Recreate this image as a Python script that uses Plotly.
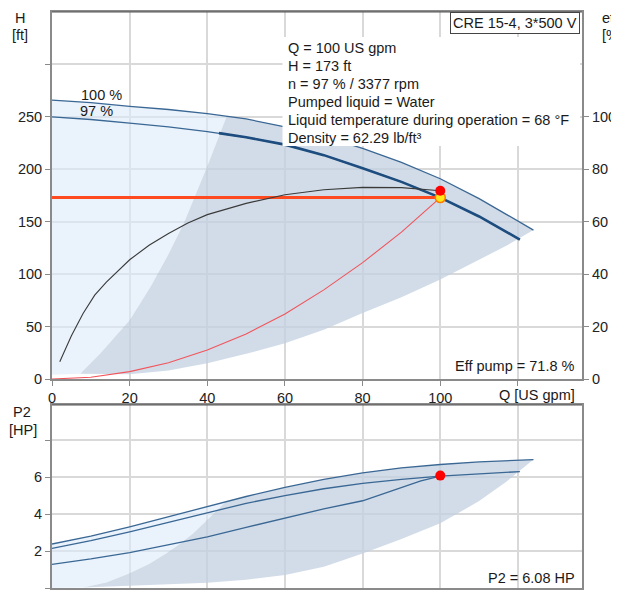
import plotly.graph_objects as go

# ---------------- data ----------------
# Q-H curve at 100 % speed
Q_100 = [0, 10, 20, 30, 40, 45, 50, 60, 70, 80, 90, 100, 110, 117, 124]
H_100 = [266, 263.5, 260, 257, 253, 250.5, 248, 240.5, 231.5, 220, 206.5, 191, 172, 157, 142]
# Q-H curve at 97 % speed (duty curve)
Q_97 = [0, 10, 20, 30, 40, 43, 50, 60, 70, 80, 90, 100, 110, 120.5]
H_97 = [250, 247.5, 244, 240.5, 236, 234.5, 230.5, 223.5, 213.5, 201, 188, 173, 155, 133]
# lower boundary of operating range (H)
Q_low = [7.3, 20, 30, 40, 50, 60, 70, 80, 90, 100, 110, 117, 124]
H_low = [5, 4.5, 8, 15, 24, 34, 47, 63, 78, 95, 114, 127, 142]
# left boundary of operating range (H)
Q_left = [7.3, 8.2, 12.5, 20, 25.4, 30, 34, 40, 45]
H_left = [5, 8.6, 24.6, 56, 88, 119, 149, 203, 250.5]
# system curve
Q_sys = [0, 10, 20, 30, 40, 50, 60, 70, 80, 90, 100]
H_sys = [0, 1.7, 7, 15.5, 27.7, 43, 62, 85, 111, 140, 173]
# pump efficiency
Q_eta = [2, 5, 8, 11, 14, 20, 25, 30, 35, 40, 50, 60, 70, 80, 90, 100]
eta = [6.6, 16.5, 25, 32, 37, 45.5, 51, 55.5, 59.5, 62.7, 67, 70.3, 72.2, 73.1, 73.0, 71.8]
# duty point
Q_duty = 100
H_duty = 173
eta_duty = 71.8
P2_duty = 6.08

# P2 curves
Q_p100 = [0, 10, 20, 30, 40, 50, 60, 70, 80, 90, 100, 110, 124]
P_p100 = [2.38, 2.8, 3.31, 3.85, 4.4, 4.95, 5.44, 5.88, 6.23, 6.5, 6.68, 6.82, 6.95]
Q_p97 = [0, 10, 20, 30, 40, 50, 60, 70, 80, 90, 100, 110, 120.5]
P_p97 = [2.14, 2.56, 3.04, 3.56, 4.09, 4.58, 5.0, 5.37, 5.66, 5.88, 6.05, 6.18, 6.3]
Q_pl = [0, 10, 20, 30, 40, 50, 60, 70, 80, 90, 95, 100]
P_pl = [1.28, 1.57, 1.91, 2.32, 2.77, 3.28, 3.8, 4.28, 4.72, 5.42, 5.8, 6.05]
# P2 operating range boundaries
Q_plow = [8, 20, 30, 40, 50, 60, 70, 80, 90, 100, 110, 117, 124]
P_plow = [0.03, 0.12, 0.2, 0.29, 0.45, 0.7, 1.15, 1.87, 2.65, 3.5, 4.7, 5.75, 6.95]
Q_pleft = [8, 14, 20, 25, 29.6, 33, 36.5, 40, 42.5, 44.7]
P_pleft = [0.03, 0.3, 0.8, 1.3, 1.9, 2.4, 2.97, 3.68, 4.2, 4.65]

x_ticks = [0, 20, 40, 60, 80, 100, 120]
x_ticktext = ["0", "20", "40", "60", "80", "100", ""]
h_ticks = [0, 50, 100, 150, 200, 250, 300]
h_ticktext = ["0", "50", "100", "150", "200", "250", ""]
eta_ticks = [0, 20, 40, 60, 80, 100]
p_ticks = [0, 2, 4, 6, 8]
p_ticktext = ["0", "2", "4", "6", ""]

info_lines = [
    "Q = 100 US gpm",
    "H = 173 ft",
    "n = 97 % / 3377 rpm",
    "Pumped liquid = Water",
    "Liquid temperature during operation = 68 °F",
    "Density = 62.29 lb/ft³",
]

# ---------------- styling ----------------
LIGHT = "rgba(220,235,250,0.6)"
DARK = "rgba(194,208,224,0.75)"
BLUE = "#3a6794"
BLUE_D = "#1d4c7f"
GRID = "#d9d9d9"
AX = "#8a8a8a"
FONT = "Liberation Sans, Arial, sans-serif"
FS = 14.5

OFF = 8  # page body margin
W, Hh = 619 - OFF, 590 - OFF
ML, MR, MT, MB = 52 - OFF, 37, 12 - OFF, 2
PW = W - ML - MR
PH = Hh - MT - MB


def px(x):
    return (x - OFF - ML) / PW


def py(y):
    return (Hh - MB - (y - OFF)) / PH


fig = go.Figure()

# --- top chart fills ---
q_l = [q for q in Q_100 if q <= Q_left[-1]]
h_l = [h for q, h in zip(Q_100, H_100) if q <= Q_left[-1]]
fig.add_trace(go.Scatter(
    x=q_l + Q_left[::-1] + [0], y=h_l + H_left[::-1] + [4],
    fill="toself", fillcolor=LIGHT, mode="lines", line=dict(width=0),
    hoverinfo="skip", xaxis="x", yaxis="y"))
q_op = [q for q in Q_100 if q > Q_left[-1]]
h_op = [h for q, h in zip(Q_100, H_100) if q > Q_left[-1]]
fig.add_trace(go.Scatter(
    x=Q_left + q_op + Q_low[::-1], y=H_left + h_op + H_low[::-1],
    fill="toself", fillcolor=DARK, mode="lines", line=dict(width=0),
    hoverinfo="skip", xaxis="x", yaxis="y"))

# --- top chart curves ---
fig.add_trace(go.Scatter(x=Q_100, y=H_100, mode="lines",
                         line=dict(color=BLUE, width=1.3), xaxis="x", yaxis="y"))
fig.add_trace(go.Scatter(x=Q_97, y=H_97, mode="lines",
                         line=dict(color=BLUE, width=1.3), xaxis="x", yaxis="y"))
q97_op = [q for q in Q_97 if q >= 43]
h97_op = [h for q, h in zip(Q_97, H_97) if q >= 43]
fig.add_trace(go.Scatter(x=q97_op, y=h97_op, mode="lines",
                         line=dict(color=BLUE_D, width=2.6), xaxis="x", yaxis="y"))
fig.add_trace(go.Scatter(x=Q_sys, y=H_sys, mode="lines",
                         line=dict(color="#f2545b", width=1.1), xaxis="x", yaxis="y"))
fig.add_trace(go.Scatter(x=Q_eta, y=eta, mode="lines",
                         line=dict(color="#3a3a3a", width=1.1), xaxis="x", yaxis="y3"))
fig.add_trace(go.Scatter(x=[0, Q_duty], y=[H_duty, H_duty], mode="lines",
                         line=dict(color="#ff4a1f", width=3), xaxis="x", yaxis="y"))
fig.add_trace(go.Scatter(x=[Q_duty], y=[eta_duty], mode="markers",
                         marker=dict(color="#ff0000", size=10, line=dict(width=0)),
                         xaxis="x", yaxis="y3"))
fig.add_trace(go.Scatter(x=[Q_duty], y=[H_duty], mode="markers",
                         marker=dict(color="#ffe81a", size=10, line=dict(color="#ff7a00", width=1.5)),
                         xaxis="x", yaxis="y"))

# --- bottom chart ---
qp_l = [q for q in Q_p100 if q < Q_pleft[-1]]
pp_l = [p for q, p in zip(Q_p100, P_p100) if q < Q_pleft[-1]]
fig.add_trace(go.Scatter(
    x=qp_l + Q_pleft[::-1] + [0], y=pp_l + P_pleft[::-1] + [0],
    fill="toself", fillcolor=LIGHT, mode="lines", line=dict(width=0),
    hoverinfo="skip", xaxis="x2", yaxis="y2"))
qp_op = [q for q in Q_p100 if q > Q_pleft[-1]]
pp_op = [p for q, p in zip(Q_p100, P_p100) if q > Q_pleft[-1]]
fig.add_trace(go.Scatter(
    x=Q_pleft + qp_op + Q_plow[::-1], y=P_pleft + pp_op + P_plow[::-1],
    fill="toself", fillcolor=DARK, mode="lines", line=dict(width=0),
    hoverinfo="skip", xaxis="x2", yaxis="y2"))
for qs, ps in [(Q_p100, P_p100), (Q_p97, P_p97), (Q_pl, P_pl)]:
    fig.add_trace(go.Scatter(x=qs, y=ps, mode="lines",
                             line=dict(color=BLUE, width=1.3), xaxis="x2", yaxis="y2"))
fig.add_trace(go.Scatter(x=[Q_duty], y=[P2_duty], mode="markers",
                         marker=dict(color="#ff0000", size=10, line=dict(width=0)),
                         xaxis="x2", yaxis="y2"))

top_dom = [py(379), 1.0]
bot_dom = [0.0, py(405)]

axis_common = dict(showgrid=True, gridcolor=GRID, gridwidth=1.5, zeroline=False,
                   showline=True, linecolor=AX, linewidth=2, mirror=True,
                   ticks="outside", ticklen=5, tickcolor=AX, automargin=False,
                   tickfont=dict(family=FONT, size=FS, color="#222"))

fig.update_layout(
    width=W, height=Hh,
    margin=dict(l=ML, r=MR, t=MT, b=MB, autoexpand=False),
    paper_bgcolor="white", plot_bgcolor="white",
    showlegend=False,
    font=dict(family=FONT, size=FS, color="#222"),
    xaxis=dict(domain=[0, 1], range=[0, 136.5], anchor="y",
               tickvals=x_ticks, ticktext=x_ticktext, **axis_common),
    yaxis=dict(domain=top_dom, range=[0, 350], anchor="x",
               tickvals=h_ticks, ticktext=h_ticktext, **axis_common),
    yaxis3=dict(overlaying="y", side="right", anchor="x", range=[0, 350 / 2.5],
                tickvals=eta_ticks, showgrid=False, zeroline=False, showline=True,
                linecolor=AX, linewidth=2, ticks="outside", ticklen=5, tickcolor=AX,
                automargin=False,
                tickfont=dict(family=FONT, size=FS, color="#222")),
    xaxis2=dict(domain=[0, 1], range=[0, 136.5], anchor="y2", matches="x",
                tickvals=x_ticks, showticklabels=False,
                **{k: v for k, v in axis_common.items() if k not in ("ticks", "tickfont")},
                ticks=""),
    yaxis2=dict(domain=bot_dom, range=[0, 9.9], anchor="x2",
                tickvals=p_ticks, ticktext=p_ticktext, **axis_common),
)

# white background behind the info block
fig.add_shape(type="rect", xref="paper", yref="paper",
              x0=px(282.5), x1=px(580), y0=py(146), y1=py(37),
              fillcolor="white", line=dict(width=0), layer="above")
# darker top borders of both charts
fig.add_shape(type="line", xref="paper", yref="paper",
              x0=0, x1=1, y0=1, y1=1, line=dict(color="#555", width=1), layer="above")
fig.add_shape(type="line", xref="paper", yref="paper",
              x0=0, x1=1, y0=bot_dom[1], y1=bot_dom[1], line=dict(color="#555", width=1),
              layer="above")

ann = []


def text(x, y, s, xanchor="left", size=FS, **kw):
    ann.append(dict(x=px(x), y=py(y), xref="paper", yref="paper", text=s,
                    showarrow=False, xanchor=xanchor, yanchor="middle",
                    font=dict(family=FONT, size=size, color="#1a1a1a"), **kw))


text(20, 18, "H", "center")
text(20, 35, "[ft]", "center")
text(600, 18, "eta", "left")
text(600, 35, "[%]", "left")
text(22, 412, "P2", "center")
text(23, 430, "[HP]", "center")
text(79, 95, "100 %")
text(78, 111, "97 %")
line_y = [48, 66, 84, 102, 120, 137.5]
for s, yy in zip(info_lines, line_y):
    text(285.5, yy, s)
text(577, 366, "Eff pump = 71.8 %", "right")
text(577, 395, "Q [US gpm]", "right")
text(577, 578, "P2 = 6.08 HP", "right")
ann.append(dict(x=px(580), y=1.0, xref="paper", yref="paper",
                text="CRE 15-4, 3*500 V", showarrow=False,
                xanchor="right", yanchor="top", bgcolor="white",
                bordercolor="#444", borderwidth=1, borderpad=2,
                font=dict(family=FONT, size=FS, color="#1a1a1a")))
fig.update_layout(annotations=ann)

fig.write_html("out.html")
